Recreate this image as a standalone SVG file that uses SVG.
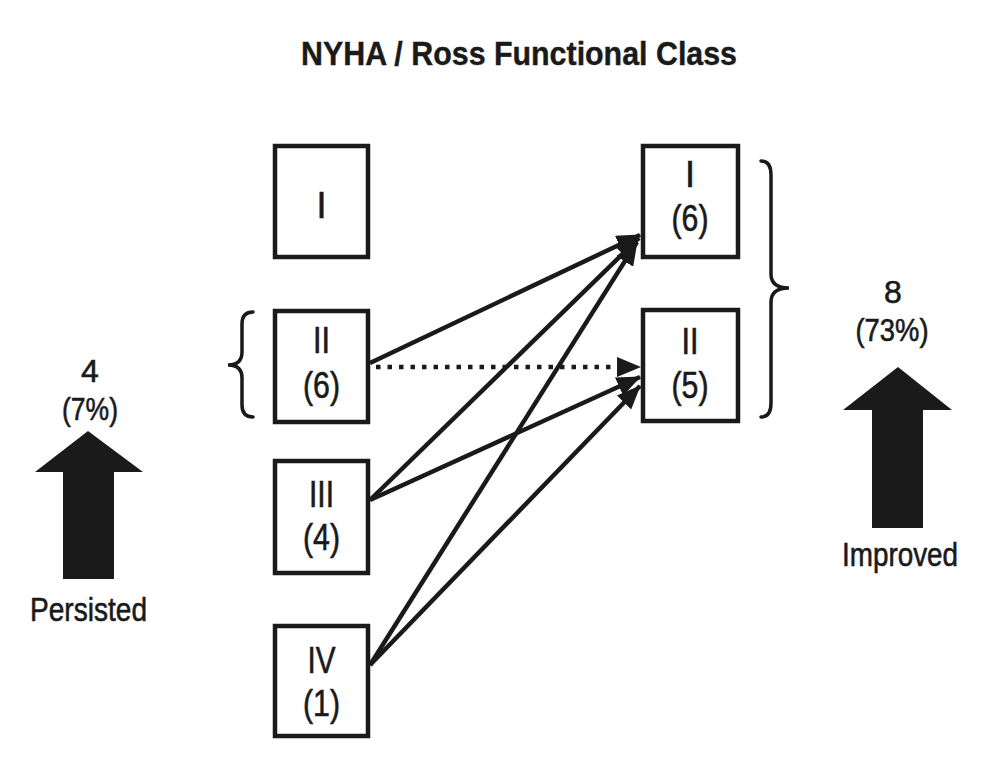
<svg xmlns="http://www.w3.org/2000/svg" width="1008" height="762" viewBox="0 0 1008 762">
<style>
text{font-family:"Liberation Sans",Arial,sans-serif;fill:#1a1a1a;stroke:#1a1a1a;stroke-width:0.6}
.lbl{font-size:36px;text-anchor:middle}
.title{font-size:34px;font-weight:bold;stroke-width:0.4}
.num{font-size:32px;text-anchor:middle}
.word{font-size:34px}
.box{fill:#fff;stroke:#1a1a1a;stroke-width:4.5}
.con{stroke:#1a1a1a;stroke-width:4.5;fill:none}
.dot{stroke:#1a1a1a;stroke-width:4.5;fill:none;stroke-dasharray:4.5 7}
.brace{stroke:#1a1a1a;stroke-width:3.5;fill:none;stroke-linecap:round}
.big{fill:#1a1a1a}
</style>
<defs>
<marker id="ah" markerUnits="userSpaceOnUse" markerWidth="24" markerHeight="20" viewBox="0 0 24 20" refX="23" refY="10" orient="auto">
<path d="M0,0 L24,10 L0,20 z" fill="#1a1a1a"/>
</marker>
</defs>
<rect width="1008" height="762" fill="#fff"/>
<text class="title" x="301" y="65" textLength="436" lengthAdjust="spacingAndGlyphs">NYHA / Ross Functional Class</text>

<g id="connectors">
<line class="con" x1="370" y1="363" x2="640" y2="235" marker-end="url(#ah)"/>
<line class="dot" x1="376" y1="367" x2="640" y2="367" marker-end="url(#ah)"/>
<line class="con" x1="370" y1="500" x2="639" y2="238" marker-end="url(#ah)"/>
<line class="con" x1="370" y1="500" x2="640" y2="377" marker-end="url(#ah)"/>
<line class="con" x1="370" y1="665" x2="637" y2="242" marker-end="url(#ah)"/>
<line class="con" x1="370" y1="665" x2="640" y2="386" marker-end="url(#ah)"/>
</g>

<g id="left-I">
<rect class="box" x="275" y="146" width="93" height="111"/>
<text class="lbl" x="321.5" y="218">I</text>
</g>
<g id="left-II">
<rect class="box" x="275" y="311" width="93" height="111"/>
<text class="lbl" x="321.5" y="353" textLength="17" lengthAdjust="spacingAndGlyphs">II</text>
<text class="lbl" x="321.5" y="398" textLength="37" lengthAdjust="spacingAndGlyphs">(6)</text>
</g>
<g id="left-III">
<rect class="box" x="275" y="461" width="93" height="112"/>
<text class="lbl" x="321.5" y="507" textLength="25" lengthAdjust="spacingAndGlyphs">III</text>
<text class="lbl" x="321.5" y="550" textLength="37" lengthAdjust="spacingAndGlyphs">(4)</text>
</g>
<g id="left-IV">
<rect class="box" x="275" y="626" width="93" height="110"/>
<text class="lbl" x="321.5" y="673" textLength="28" lengthAdjust="spacingAndGlyphs">IV</text>
<text class="lbl" x="321.5" y="716" textLength="37" lengthAdjust="spacingAndGlyphs">(1)</text>
</g>
<g id="right-I">
<rect class="box" x="643" y="146" width="95" height="111"/>
<text class="lbl" x="690" y="187">I</text>
<text class="lbl" x="690" y="231" textLength="37" lengthAdjust="spacingAndGlyphs">(6)</text>
</g>
<g id="right-II">
<rect class="box" x="643" y="310" width="95" height="111"/>
<text class="lbl" x="690" y="354" textLength="17" lengthAdjust="spacingAndGlyphs">II</text>
<text class="lbl" x="690" y="398" textLength="37" lengthAdjust="spacingAndGlyphs">(5)</text>
</g>

<g id="left-brace">
<path class="brace" d="M253,312 Q242,312 242,324 L242,352 Q242,365 228,365 Q242,365 242,378 L242,405 Q242,417 253,417"/>
</g>
<g id="right-brace">
<path class="brace" d="M761,161 Q771,161 771,175 L771,274 Q771,288 789,288 Q771,288 771,302 L771,403 Q771,417 761,417"/>
</g>

<g id="persisted">
<text class="num" x="90" y="382">4</text>
<text class="num" x="90" y="420" textLength="56" lengthAdjust="spacingAndGlyphs">(7%)</text>
<path class="big" d="M88,431 L143,472 L114,472 L114,579 L63,579 L63,472 L35,472 z"/>
<text class="word" x="30" y="621" textLength="117" lengthAdjust="spacingAndGlyphs">Persisted</text>
</g>
<g id="improved">
<text class="num" x="893" y="303">8</text>
<text class="num" x="892" y="341" textLength="73" lengthAdjust="spacingAndGlyphs">(73%)</text>
<path class="big" d="M898,367 L952,410 L923,410 L923,528 L872,528 L872,410 L843,410 z"/>
<text class="word" x="842" y="566" textLength="116" lengthAdjust="spacingAndGlyphs">Improved</text>
</g>
</svg>
